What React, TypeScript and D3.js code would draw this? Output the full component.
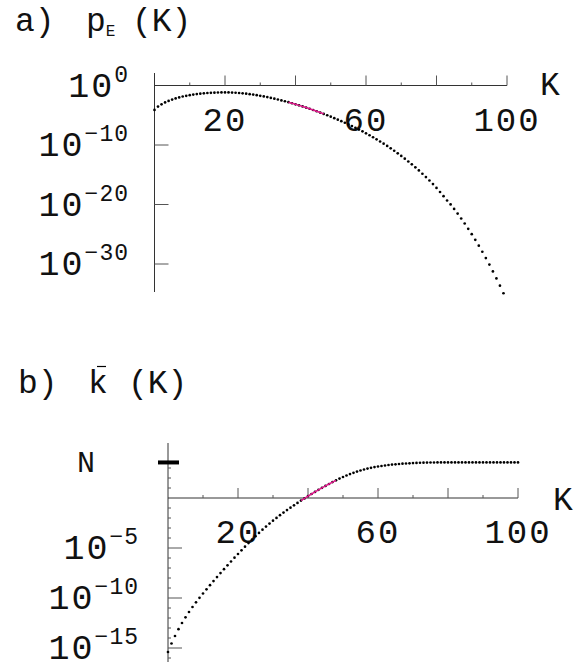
import * as d3 from "d3";

// log10 p_E(K), K = 0..99
const pELog10 = [
  -4.1, -3.55, -3.16, -2.85, -2.59, -2.36, -2.17, -2.0, -1.85, -1.73,
  -1.62, -1.52, -1.44, -1.37, -1.31, -1.26, -1.23, -1.2, -1.18, -1.17,
  -1.16, -1.17, -1.19, -1.22, -1.26, -1.31, -1.38, -1.45, -1.53, -1.62,
  -1.73, -1.84, -1.95, -2.08, -2.21, -2.35, -2.5, -2.65, -2.81, -2.98,
  -3.16, -3.34, -3.52, -3.71, -3.91, -4.12, -4.33, -4.55, -4.77, -5.0,
  -5.24, -5.49, -5.74, -6.0, -6.26, -6.54, -6.82, -7.11, -7.41, -7.71,
  -8.03, -8.36, -8.7, -9.05, -9.41, -9.78, -10.16, -10.56, -10.97, -11.4,
  -11.84, -12.29, -12.77, -13.25, -13.76, -14.28, -14.83, -15.39, -15.97, -16.57,
  -17.22, -17.9, -18.6, -19.33, -19.98, -20.74, -21.53, -22.35, -23.19, -24.08,
  -24.99, -25.94, -26.92, -27.94, -29.0, -30.1, -31.24, -32.42, -33.65, -34.92,
];

// log10 kbar(K), K = 0..100
const kBarLog10 = [
  -15.4, -14.55, -13.8, -13.12, -12.5, -11.93, -11.4, -10.9, -10.43, -9.98,
  -9.55, -9.13, -8.72, -8.31, -7.91, -7.51, -7.12, -6.73, -6.35, -5.97,
  -5.6, -5.23, -4.87, -4.51, -4.16, -3.82, -3.49, -3.17, -2.86, -2.56,
  -2.27, -1.99, -1.72, -1.46, -1.21, -0.97, -0.73, -0.49, -0.26, -0.04,
  0.19, 0.4, 0.61, 0.82, 1.02, 1.21, 1.4, 1.59, 1.77, 1.94,
  2.1, 2.25, 2.39, 2.52, 2.64, 2.75, 2.85, 2.94, 3.02, 3.09,
  3.15, 3.2, 3.25, 3.3, 3.34, 3.37, 3.4, 3.43, 3.45, 3.47,
  3.49, 3.51, 3.525, 3.535, 3.543, 3.548, 3.551, 3.553, 3.555, 3.555,
  3.555, 3.555, 3.555, 3.555, 3.555, 3.555, 3.555, 3.555, 3.555, 3.555,
  3.555, 3.555, 3.555, 3.555, 3.555, 3.555, 3.555, 3.555, 3.555, 3.555,
  3.555,
];

const N_LOG10 = 3.555;
const pinkRange = [38, 48];

const xTickMajor = [20, 40, 60, 80, 100];
const xTickMinor = [10, 30, 50, 70, 90];
const xTickLabels = [20, 60, 100];

const topYTicks = [-10, -20, -30];
const topYLabels = [0, -10, -20, -30];
const botYMajor = [-5, -10, -15];
const botYMinor = [3, 2, 1, -1, -2, -3, -4, -6, -7, -8, -9, -11, -12, -13, -14, -16];

const FONT = "'Liberation Mono', 'DejaVu Sans Mono', monospace";
const AXIS = "#333";
const TICK = "#555";
const PINK = "#e0188c";
const INK = "#111";

const sup = (e: number) => (e < 0 ? "\u2212" + Math.abs(e) : String(e));

function Panel({
  data, x, y, yTickVals, yLabelVals, yLabelRight, axisTop, axisBottom, minorY, nTick,
}: any) {
  const pts = data.map((v: number, k: number) => [x(k), y(Math.pow(10, v))]);
  const y0 = y(1);
  const x0 = x(0);
  const pinkLine = d3.line()(pts.slice(pinkRange[0], pinkRange[1] + 1));
  return (
    <g>
      {/* axes */}
      <line x1={x0} x2={x(100)} y1={y0} y2={y0} stroke={AXIS} strokeWidth={1} />
      <line x1={x0} x2={x0} y1={axisTop} y2={axisBottom} stroke={AXIS} strokeWidth={1} />
      {xTickMajor.map((t) => (
        <line key={"M" + t} x1={x(t)} x2={x(t)} y1={y0} y2={y0 - 10} stroke={TICK} />
      ))}
      {xTickMinor.map((t) => (
        <line key={"m" + t} x1={x(t)} x2={x(t)} y1={y0} y2={y0 - 3} stroke={TICK} />
      ))}
      {xTickLabels.map((t) => (
        <text key={"l" + t} x={x(t)} y={y0 + 45} textAnchor="middle" fontFamily={FONT}
          fontSize={34} letterSpacing={2} fill={INK}>{t}</text>
      ))}
      {yTickVals.map((e: number) => (
        <line key={"y" + e} x1={x0} x2={x0 + 14} y1={y(Math.pow(10, e))} y2={y(Math.pow(10, e))}
          stroke={TICK} />
      ))}
      {minorY.map((e: number) => (
        <line key={"ym" + e} x1={x0} x2={x0 + 3} y1={y(Math.pow(10, e))} y2={y(Math.pow(10, e))}
          stroke={TICK} />
      ))}
      {yLabelVals.map((e: number) => (
        <text key={"yl" + e} x={yLabelRight} y={y(Math.pow(10, e)) + 11} textAnchor="end"
          fontFamily={FONT} fontSize={35} fill={INK}>
          <tspan letterSpacing={2}>10</tspan>
          <tspan fontSize={23} dy={-15} letterSpacing={1}>{sup(e)}</tspan>
        </text>
      ))}
      {nTick && (
        <g>
          <line x1={x0 - 10} x2={x0 + 11} y1={y(Math.pow(10, N_LOG10))} y2={y(Math.pow(10, N_LOG10))}
            stroke="#000" strokeWidth={4} />
          <text x={95} y={y(Math.pow(10, N_LOG10)) + 10} textAnchor="end" fontFamily={FONT}
            fontSize={30} fill={INK}>N</text>
        </g>
      )}
      {/* data */}
      {pts.map((p: number[], i: number) => (
        <circle key={i} cx={p[0]} cy={p[1]} r={1.35} fill="#000" />
      ))}
      <path d={pinkLine || ""} fill="none" stroke={PINK} strokeWidth={1.5} />
    </g>
  );
}

export default function App() {
  const xTop = d3.scaleLinear().domain([0, 100]).range([154.5, 507]);
  const yTop = d3.scaleLog().domain([1, 1e-35]).range([85.5, 85.5 + 35 * 5.95]);
  const xBot = d3.scaleLinear().domain([0, 100]).range([168, 518]);
  const yBot = d3.scaleLog().domain([1, 1e-15]).range([498, 648]);

  return (
    <svg width={584} height={662} style={{ position: "absolute", left: 0, top: 0, background: "#fff" }}>
      <text x={15} y={31} fontFamily={FONT} fontSize={33} fill={INK}>
        <tspan>a)</tspan>
        <tspan x={86}>p</tspan>
        <tspan fontSize={16} dy={5}>E</tspan>
        <tspan x={132} dy={-5}>(K)</tspan>
      </text>
      <text x={540} y={95} fontFamily={FONT} fontSize={33} fill={INK}>K</text>
      <Panel data={pELog10} x={xTop} y={yTop} yTickVals={topYTicks} yLabelVals={topYLabels}
        yLabelRight={129} axisTop={73} axisBottom={292} minorY={[]} nTick={false} />

      <text x={18} y={393} fontFamily={FONT} fontSize={33} fill={INK}>
        <tspan>b)</tspan>
        <tspan x={88}>k</tspan>
        <tspan x={128}>(K)</tspan>
      </text>
      <line x1={97} x2={106} y1={366.5} y2={366.5} stroke="#000" strokeWidth={1.2} />
      <text x={553} y={510} fontFamily={FONT} fontSize={33} fill={INK}>K</text>
      <Panel data={kBarLog10} x={xBot} y={yBot} yTickVals={botYMajor} yLabelVals={botYMajor}
        yLabelRight={139} axisTop={443} axisBottom={662} minorY={botYMinor} nTick={true} />
    </svg>
  );
}
